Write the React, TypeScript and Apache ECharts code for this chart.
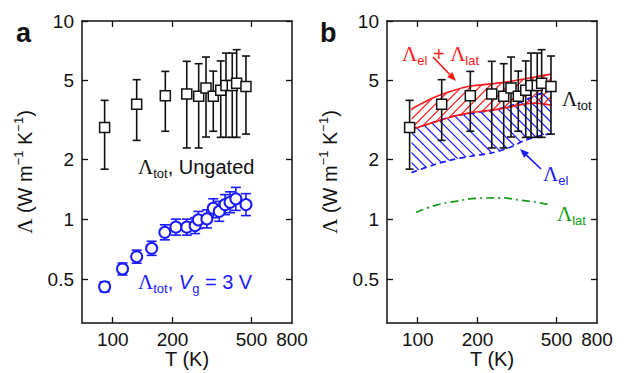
import React, { useEffect, useRef } from "react";
import * as echarts from "echarts";

// ---- axis ranges & ticks ----
const X_MIN = 70;
const X_MAX = 800;
const Y_MIN = 0.3;
const Y_MAX = 10;
const xTickLabels = [100, 200, 500, 800];
const xTickMarks = [100, 200, 500];
const yTickLabels = [0.5, 1, 2, 5, 10];

// ---- ungated total thermal conductivity (black squares) ----
const totT = [91, 132, 184, 236, 271, 295, 321, 350, 372, 400, 421, 469];
const totVal = [2.9, 3.8, 4.2, 4.28, 4.17, 4.59, 4.17, 4.47, 4.73, 4.73, 4.86, 4.68];
const totHi = [3.98, 5.06, 5.57, 6.26, 6.09, 6.58, 5.59, 6.29, 6.89, 6.89, 7.17, 6.66];
const totLo = [1.79, 2.5, 2.78, 2.29, 2.29, 2.6, 2.78, 2.59, 2.59, 2.59, 2.59, 2.69];

// ---- gated (Vg = 3 V) total thermal conductivity (blue circles) ----
const gatedT = [91, 112, 132, 157, 183, 208, 236, 260, 270, 298, 321, 344, 368, 390, 417, 469];
const gatedVal = [0.457, 0.562, 0.648, 0.714, 0.86, 0.913, 0.913, 0.929, 0.993, 1.005, 1.137, 1.097, 1.186, 1.219, 1.268, 1.186];
const gatedLo = [0.431, 0.524, 0.601, 0.658, 0.788, 0.832, 0.832, 0.847, 0.899, 0.905, 1.019, 0.977, 1.056, 1.08, 1.109, 1.044];
const gatedHi = [0.484, 0.602, 0.699, 0.775, 0.938, 1.002, 1.002, 1.019, 1.096, 1.116, 1.269, 1.232, 1.332, 1.376, 1.449, 1.347];

// ---- panel b bands ----
const bandT = [93, 120, 150, 185, 235, 290, 340, 390, 430, 472];
const sumUpper = [3.6, 4.1, 4.45, 4.7, 4.82, 4.95, 5.1, 5.22, 5.32, 5.4];
const sumLower = [2.84, 3.08, 3.3, 3.45, 3.55, 3.68, 3.8, 3.85, 3.82, 3.76];
const elUpper = [2.84, 3.08, 3.3, 3.42, 3.54, 3.72, 3.95, 4.2, 4.35, 4.45];
const elLower = [1.72, 1.88, 2.0, 2.08, 2.16, 2.3, 2.48, 2.6, 2.66, 2.7];

// ---- lattice contribution ----
const latT = [98, 124, 157, 197, 259, 327, 412, 472];
const latVal = [1.083, 1.179, 1.235, 1.274, 1.283, 1.249, 1.211, 1.179];

const lg = (v: number) => Math.log10(v);
const FONT = "'Liberation Sans', Arial, Helvetica, sans-serif";
const SERIF = "'Liberation Serif', 'Times New Roman', serif";
const BLACK = "#111111";
const RED = "#ff1a1a";
const BLUE = "#1a1aff";
const GREEN = "#159a15";

const fmt = (v: number) => String(Number(Math.pow(10, v).toPrecision(2)));

function xAxis(gridIndex: number, position: string, main: boolean) {
  return {
    type: "value",
    gridIndex,
    position,
    min: lg(X_MIN),
    max: lg(X_MAX),
    axisLine: { show: true, onZero: false, lineStyle: { color: BLACK, width: 1.5 } },
    axisTick: {
      show: true,
      inside: true,
      length: 6,
      lineStyle: { color: BLACK, width: 1.3 },
      customValues: xTickMarks.map(lg),
    },
    axisLabel: {
      show: main,
      customValues: xTickLabels.map(lg),
      formatter: fmt,
      color: BLACK,
      fontSize: 19,
      fontFamily: FONT,
      margin: 7,
    },
    splitLine: { show: false },
    name: main ? "T (K)" : "",
    nameLocation: "middle",
    nameGap: 26,
    nameMoveOverlap: false,
    nameTextStyle: { color: BLACK, fontSize: 20, fontFamily: FONT, lineHeight: 20 },
  };
}

function yAxis(gridIndex: number, position: string, main: boolean) {
  return {
    type: "value",
    gridIndex,
    position,
    min: lg(Y_MIN),
    max: lg(Y_MAX),
    axisLine: { show: true, onZero: false, lineStyle: { color: BLACK, width: 1.5 } },
    axisTick: {
      show: true,
      inside: true,
      length: 6,
      lineStyle: { color: BLACK, width: 1.3 },
      customValues: yTickLabels.map(lg),
    },
    axisLabel: {
      show: main,
      customValues: yTickLabels.map(lg),
      formatter: fmt,
      color: BLACK,
      fontSize: 19,
      fontFamily: FONT,
      margin: 8,
    },
    splitLine: { show: false },
    name: main ? "{L|Λ}{n| (W m}{s|−1}{n| K}{s|−1}{n|)}" : "",
    nameLocation: "middle",
    nameGap: 44,
    nameMoveOverlap: false,
    nameTextStyle: {
      rich: {
        L: { fontFamily: SERIF, fontSize: 21, lineHeight: 26, color: BLACK },
        n: { fontFamily: FONT, fontSize: 20, lineHeight: 26, color: BLACK },
        s: { fontFamily: FONT, fontSize: 13, lineHeight: 14, verticalAlign: "top", color: BLACK },
      },
    },
  };
}

function errorBars(xs: number[], lo: number[], hi: number[], color: string, axis: number, cap: number) {
  return {
    type: "custom",
    xAxisIndex: axis,
    yAxisIndex: axis,
    silent: true,
    z: 3,
    encode: { x: 0, y: [1, 2] },
    data: xs.map((t, i) => [lg(t), lg(lo[i]), lg(hi[i])]),
    renderItem: (params: any, api: any) => {
      const x = api.value(0);
      const top = api.coord([x, api.value(2)]);
      const bot = api.coord([x, api.value(1)]);
      const w = cap / 2;
      const st = { stroke: color, lineWidth: 1.6 };
      return {
        type: "group",
        children: [
          { type: "line", shape: { x1: top[0], y1: top[1], x2: bot[0], y2: bot[1] }, style: st },
          { type: "line", shape: { x1: top[0] - w, y1: top[1], x2: top[0] + w, y2: top[1] }, style: st },
          { type: "line", shape: { x1: bot[0] - w, y1: bot[1], x2: bot[0] + w, y2: bot[1] }, style: st },
        ],
      };
    },
  };
}

function markers(xs: number[], vals: number[], axis: number, symbol: string, size: number, color: string, bw: number) {
  return {
    type: "scatter",
    xAxisIndex: axis,
    yAxisIndex: axis,
    silent: true,
    z: 4,
    symbol,
    symbolSize: size,
    itemStyle: { color: "#ffffff", borderColor: color, borderWidth: bw, opacity: 1 },
    data: xs.map((t, i) => [lg(t), lg(vals[i])]),
  };
}

function band(lo: number[], hi: number[], color: string, dir: number, spacing: number, dashed: boolean, z: number) {
  return {
    type: "custom",
    xAxisIndex: 2,
    yAxisIndex: 2,
    silent: true,
    z,
    encode: { x: 0, y: 1 },
    data: [[lg(bandT[0]), lg(lo[0])]],
    renderItem: (params: any, api: any) => {
      const up = bandT.map((t, i) => api.coord([lg(t), lg(hi[i])]));
      const dn = bandT.map((t, i) => api.coord([lg(t), lg(lo[i])]));
      const poly = up.concat(dn.slice().reverse());
      const xs = poly.map((p: number[]) => p[0]);
      const ys = poly.map((p: number[]) => p[1]);
      const minX = Math.min(...xs);
      const maxX = Math.max(...xs);
      const minY = Math.min(...ys);
      const maxY = Math.max(...ys);
      const h = maxY - minY;
      const hatch: any[] = [];
      for (let c = minX - h; c <= maxX; c += spacing) {
        hatch.push({
          type: "line",
          shape: dir > 0 ? { x1: c, y1: maxY, x2: c + h, y2: minY } : { x1: c, y1: minY, x2: c + h, y2: maxY },
          style: { stroke: color, lineWidth: 1.2 },
        });
      }
      const edge: any = { stroke: color, lineWidth: 1.7, fill: "none" };
      if (dashed) edge.lineDash = [6, 4];
      return {
        type: "group",
        children: [
          { type: "group", children: hatch, clipPath: { type: "polygon", shape: { points: poly } } },
          { type: "polyline", shape: { points: up, smooth: 0.3 }, style: { ...edge } },
          { type: "polyline", shape: { points: dn, smooth: 0.3 }, style: { ...edge } },
        ],
      };
    },
  };
}

function richFor(color: string) {
  return {
    L: { fontFamily: SERIF, fontSize: 21, lineHeight: 26, fill: color },
    n: { fontFamily: FONT, fontSize: 20, lineHeight: 26, fill: color },
    i: { fontFamily: FONT, fontSize: 20, lineHeight: 26, fontStyle: "italic", fill: color },
    s: { fontFamily: FONT, fontSize: 13, lineHeight: 14, verticalAlign: "bottom", fill: color },
  };
}

function label(x: number, y: number, text: string, color: string) {
  return {
    type: "text",
    x,
    y,
    z: 100,
    silent: true,
    style: {
      text,
      rich: richFor(color),
      fill: color,
      align: "left",
      verticalAlign: "middle",
      textAlign: "left",
      textVerticalAlign: "middle",
    },
  };
}

function arrow(x1: number, y1: number, x2: number, y2: number, color: string) {
  const dx = x2 - x1;
  const dy = y2 - y1;
  const len = Math.hypot(dx, dy);
  const ux = dx / len;
  const uy = dy / len;
  const hl = 9;
  const hw = 3.6;
  const bx = x2 - ux * hl;
  const by = y2 - uy * hl;
  return [
    { type: "line", z: 100, silent: true, shape: { x1, y1, x2: bx, y2: by }, style: { stroke: color, lineWidth: 1.7 } },
    {
      type: "polygon",
      z: 100,
      silent: true,
      shape: { points: [[x2, y2], [bx - uy * hw, by + ux * hw], [bx + uy * hw, by - ux * hw]] },
      style: { fill: color },
    },
  ];
}

function panelLetter(x: number, text: string) {
  return {
    type: "text",
    x,
    y: 33,
    z: 100,
    silent: true,
    style: {
      text,
      fill: BLACK,
      fontSize: 27,
      fontWeight: "bold",
      fontFamily: FONT,
      align: "left",
      verticalAlign: "middle",
      textAlign: "left",
      textVerticalAlign: "middle",
    },
  };
}

const option: any = {
  animation: false,
  backgroundColor: "#ffffff",
  grid: [
    { left: 82, top: 21, width: 210, height: 302, outerBoundsMode: "none", containLabel: false },
    { left: 387, top: 21, width: 210, height: 302, outerBoundsMode: "none", containLabel: false },
  ],
  xAxis: [xAxis(0, "bottom", true), xAxis(0, "top", false), xAxis(1, "bottom", true), xAxis(1, "top", false)],
  yAxis: [yAxis(0, "left", true), yAxis(0, "right", false), yAxis(1, "left", true), yAxis(1, "right", false)],
  series: [
    // panel a
    errorBars(totT, totLo, totHi, BLACK, 0, 8),
    markers(totT, totVal, 0, "rect", 10, BLACK, 1.5),
    errorBars(gatedT, gatedLo, gatedHi, BLUE, 0, 10),
    markers(gatedT, gatedVal, 0, "circle", 11, BLUE, 2),
    // panel b
    band(elLower, elUpper, BLUE, -1, 10, true, 1),
    band(sumLower, sumUpper, RED, 1, 9, false, 2),
    {
      type: "line",
      xAxisIndex: 2,
      yAxisIndex: 2,
      silent: true,
      z: 2,
      smooth: true,
      showSymbol: false,
      symbol: "none",
      lineStyle: { color: GREEN, width: 1.7, type: [8, 4, 2, 4] },
      data: latT.map((t, i) => [lg(t), lg(latVal[i])]),
    },
    errorBars(totT, totLo, totHi, BLACK, 2, 8),
    markers(totT, totVal, 2, "rect", 10, BLACK, 1.5),
  ],
  graphic: [
    panelLetter(16, "a"),
    panelLetter(320, "b"),
    label(138, 167, "{L|Λ}{s|tot}{n|, Ungated}", BLACK),
    label(138, 282, "{L|Λ}{s|tot}{n|, }{i|V}{s|g}{n| = 3 V}", BLUE),
    label(402, 54, "{L|Λ}{s|el}{n| + }{L|Λ}{s|lat}", RED),
    label(562, 99, "{L|Λ}{s|tot}", BLACK),
    label(543, 174, "{L|Λ}{s|el}", BLUE),
    label(557, 214, "{L|Λ}{s|lat}", GREEN),
    ...arrow(433, 57, 456, 81, RED),
    ...arrow(541, 169, 520, 149, BLUE),
  ],
};

export default function App() {
  const ref = useRef<HTMLDivElement>(null);
  useEffect(() => {
    const chart = echarts.init(ref.current as HTMLDivElement, null, { renderer: "svg" });
    chart.setOption(option);
    return () => chart.dispose();
  }, []);
  return (
    <div
      ref={ref}
      style={{ position: "absolute", left: 0, top: 0, width: 627, height: 373, background: "#ffffff" }}
    />
  );
}
